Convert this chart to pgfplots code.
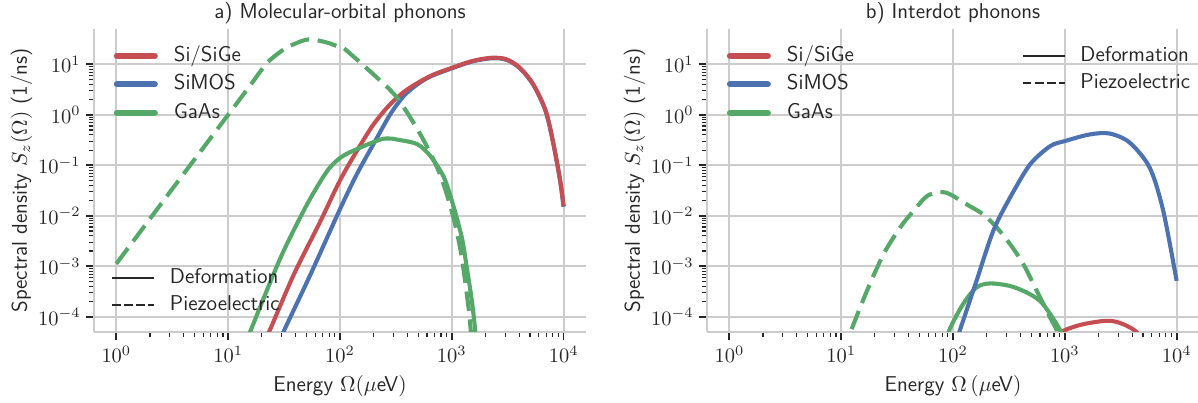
\RequirePackage{fix-cm}
\documentclass[border=0pt]{standalone}
\usepackage{pgfplots}
\pgfplotsset{compat=1.18}
\renewcommand{\familydefault}{\sfdefault}

\definecolor{cRed}{HTML}{C44E52}
\definecolor{cBlue}{HTML}{4C72B0}
\definecolor{cGreen}{HTML}{55A868}
\definecolor{gridgray}{HTML}{CCCCCC}
\definecolor{txt}{HTML}{262626}

\pgfplotsset{
  mycurve/.style={line width=2.1pt, smooth, tension=0.5, line join=round},
  mydash/.style={dash pattern=on 10pt off 4.4pt},
}

\begin{document}
\begin{tikzpicture}
\useasboundingbox (-48.2pt,-36.4pt) rectangle (566.4pt,170.3pt);

% ---- a) molecular-orbital phonons
\begin{axis}[at={(0pt,0pt)}, anchor=south west,
    scale only axis, width=252.4pt, height=155.4pt,
    xmode=log, ymode=log,
    xmin=0.631, xmax=15849, ymin=5e-5, ymax=50,
    axis lines*=left,
    axis line style={gridgray, line width=1.25pt, -},
    tick align=outside,
    major tick length=4.1pt, minor tick length=2.6pt,
    tick style={txt, line width=0.9pt},
    minor tick style={line width=0.6pt},
    grid=major, major grid style={gridgray, line width=1pt},
    xtick={1,10,100,1000,10000},
    ytick={1e-4,1e-3,1e-2,1e-1,1,10},
    tick label style={text=txt, font=\fontsize{10.5}{12}\selectfont},
    xticklabel style={anchor=base, yshift=-11.8pt},
    yticklabel style={anchor=east, inner sep=0pt, xshift=-2.6pt},
    title style={at={(axis description cs:0.5,1)}, anchor=base, yshift=-0.5pt, text=txt, font=\fontsize{11}{13}\selectfont},
    label style={font=\fontsize{11}{13}\selectfont},
    xlabel style={at={(axis description cs:0.5,0)}, anchor=base, yshift=-30.6pt, text=txt},
    ylabel style={at={(axis description cs:-0.1363,0.5)}, anchor=base, text=txt},
    ylabel={Spectral density $S_z(\Omega)$ (1/ns)},
    title={a) Molecular-orbital phonons},
    xlabel={Energy $\Omega(\mu$eV$)$},
    legend style={at={(axis description cs:0,1)}, anchor=north west,
      xshift=10pt, yshift=-8.8pt, draw=none, fill=none, inner sep=0pt,
      row sep=5.1pt, column sep=8.2pt,
      nodes={inner sep=0pt, text height=7.5pt, text depth=2pt, text=txt,
             font=\fontsize{11}{13}\selectfont}},
    legend image code/.code={\draw[#1] (0pt,0pt) -- (19.5pt,0pt);},
    legend cell align=left]
\addplot[mycurve, cBlue, forget plot] coordinates {
 (25.12,1.585e-5)(31.55,5.25e-5)(54.58,6.92e-4)(100,1.349e-2)(141.3,6.607e-2)
 (199.5,0.263)(281.8,1.023)(371.5,2.344)(489.8,3.981)(645.7,5.754)(1000,8.318)
 (1549,11.48)(2291,13.18)(3090,12.30)(4074,8.318)(5370,3.890)(6918,1.175)
 (8128,0.257)(9333,4.786e-2)(10000,1.514e-2)};
\addplot[mycurve, cRed, forget plot] coordinates {
 (17.78,1.41e-5)(23.44,5.25e-5)(38.73,6.92e-4)(67.14,7.94e-3)(100,5.01e-2)
 (141.3,0.1905)(199.5,0.6457)(281.8,1.622)(398.1,3.162)(645.7,5.888)(1000,8.511)
 (1549,11.75)(2291,13.49)(3090,12.59)(4074,8.511)(5370,3.981)(6918,1.202)
 (8128,0.263)(9333,4.898e-2)(10000,1.549e-2)};
\addplot[mycurve, cGreen, forget plot] coordinates {
 (12.59,1.41e-5)(15.85,5.25e-5)(29.44,1.479e-3)(50.93,1.698e-2)(77.09,7.76e-2)
 (102.3,0.1445)(141.3,0.2089)(229.1,0.3236)(281.8,0.3388)(323.6,0.3236)
 (489.8,0.263)(645.7,0.1514)(851.1,5.75e-2)(1023,1.698e-2)(1230,3.715e-3)
 (1349,1.096e-3)(1514,2.042e-4)(1622,5.25e-5)(1698,1.58e-5)};
\addplot[mycurve, mydash, cGreen, forget plot] coordinates {
 (1,1.122e-3)(3.162,3.39e-2)(10,1.0)(15.85,3.9)(22.34,10.72)(31.62,19.95)
 (38.73,25.1)(52.72,31.26)(77.09,26.9)(101.4,21.38)(110.9,19.95)(199.5,6.31)
 (323.6,2.188)(524.8,0.4074)(741.3,8.91e-2)(901.6,2.69e-2)(1071.5,6.76e-3)
 (1230,1.479e-3)(1412.5,1.514e-4)(1479,5.25e-5)(1549,1.58e-5)};
\addlegendimage{cRed, line width=3.1pt, line cap=round}
\addlegendimage{cBlue, line width=3.1pt, line cap=round}
\addlegendimage{cGreen, line width=3.1pt, line cap=round}
\legend{Si/SiGe, SiMOS, GaAs}
\end{axis}

\begin{axis}[at={(0pt,0pt)}, anchor=south west,
    scale only axis, width=252.4pt, height=155.4pt,
    xmode=log, ymode=log,
    xmin=0.631, xmax=15849, ymin=5e-5, ymax=50, hide axis,
    legend style={at={(axis description cs:0,1)}, anchor=north west,
      xshift=8.6pt, yshift=-122.6pt, draw=none, fill=none, inner sep=0pt,
      row sep=4.7pt, column sep=7.8pt,
      nodes={inner sep=0pt, text height=7.5pt, text depth=2pt, text=txt,
             font=\fontsize{11}{13}\selectfont}},
    legend image code/.code={\draw[#1] (0pt,0pt) -- (21.3pt,0pt);},
    legend cell align=left]
\addlegendimage{txt, line width=1.1pt}
\addlegendimage{txt, line width=1.1pt, dash pattern=on 4.3pt off 1.9pt}
\legend{Deformation, Piezoelectric}
\end{axis}

% ---- b) interdot phonons
\begin{axis}[at={(314.5pt,0pt)}, anchor=south west,
    scale only axis, width=252.4pt, height=155.4pt,
    xmode=log, ymode=log,
    xmin=0.631, xmax=15849, ymin=5e-5, ymax=50,
    axis lines*=left,
    axis line style={gridgray, line width=1.25pt, -},
    tick align=outside,
    major tick length=4.1pt, minor tick length=2.6pt,
    tick style={txt, line width=0.9pt},
    minor tick style={line width=0.6pt},
    grid=major, major grid style={gridgray, line width=1pt},
    xtick={1,10,100,1000,10000},
    ytick={1e-4,1e-3,1e-2,1e-1,1,10},
    tick label style={text=txt, font=\fontsize{10.5}{12}\selectfont},
    xticklabel style={anchor=base, yshift=-11.8pt},
    yticklabel style={anchor=east, inner sep=0pt, xshift=-2.6pt},
    title style={at={(axis description cs:0.5,1)}, anchor=base, yshift=-0.5pt, text=txt, font=\fontsize{11}{13}\selectfont},
    label style={font=\fontsize{11}{13}\selectfont},
    xlabel style={at={(axis description cs:0.5,0)}, anchor=base, yshift=-30.6pt, text=txt},
    ylabel style={at={(axis description cs:-0.1363,0.5)}, anchor=base, text=txt},
    ylabel={Spectral density $S_z(\Omega)$ (1/ns)},
    title={b) Interdot phonons},
    xlabel={Energy $\Omega\,(\mu$eV$)$},
    legend style={at={(axis description cs:0,1)}, anchor=north west,
      xshift=10pt, yshift=-8.8pt, draw=none, fill=none, inner sep=0pt,
      row sep=5.1pt, column sep=8.2pt,
      nodes={inner sep=0pt, text height=7.5pt, text depth=2pt, text=txt,
             font=\fontsize{11}{13}\selectfont}},
    legend image code/.code={\draw[#1] (0pt,0pt) -- (19.5pt,0pt);},
    legend cell align=left]
\addplot[mycurve, cRed, forget plot] coordinates {
 (794.3,3.55e-5)(966.1,5.25e-5)(1445,7.08e-5)(2344,8.318e-5)(3090,7.586e-5)
 (4266,5.25e-5)(5623,2.512e-5)};
\addplot[mycurve, cGreen, mydash, forget plot] coordinates {
 (10,1.738e-5)(12.22,5.25e-5)(16.98,3.236e-4)(23.93,1.738e-3)(33.73,5.888e-3)
 (44.46,1.259e-2)(58.48,2.455e-2)(77.09,2.951e-2)(93.33,2.692e-2)(131.8,1.698e-2)
 (186.2,1.072e-2)(245.5,5.888e-3)(323.6,2.754e-3)(426.6,1.096e-3)(562.3,3.236e-4)
 (741.3,9.55e-5)(851.1,5.25e-5)(933.3,2.512e-5)};
\addplot[mycurve, cGreen, forget plot] coordinates {
 (85.11,2.512e-5)(93.33,5.62e-5)(123.0,1.778e-4)(162.2,3.802e-4)(213.8,4.571e-4)
 (323.6,4.074e-4)(457.1,3.02e-4)(602.6,2.042e-4)(741.3,1.122e-4)(912.0,5.37e-5)
 (1000,3.162e-5)};
\addplot[mycurve, cBlue, forget plot] coordinates {
 (100,1.995e-5)(114.8,5.25e-5)(162.2,5.129e-4)(229.1,5.012e-3)(323.6,2.291e-2)
 (489.8,0.1047)(741.3,0.2399)(1000,0.302)(1660,0.4074)(2512,0.4266)(3802,0.2818)
 (5754,8.913e-2)(7586,1.259e-2)(10000,5.129e-4)};
\addlegendimage{cRed, line width=3.1pt, line cap=round}
\addlegendimage{cBlue, line width=3.1pt, line cap=round}
\addlegendimage{cGreen, line width=3.1pt, line cap=round}
\legend{Si/SiGe, SiMOS, GaAs}
\end{axis}

\begin{axis}[at={(314.5pt,0pt)}, anchor=south west,
    scale only axis, width=252.4pt, height=155.4pt,
    xmode=log, ymode=log,
    xmin=0.631, xmax=15849, ymin=5e-5, ymax=50, hide axis,
    legend style={at={(axis description cs:0,1)}, anchor=north west,
      xshift=161.4pt, yshift=-8.8pt, draw=none, fill=none, inner sep=0pt,
      row sep=4.5pt, column sep=7.6pt,
      nodes={inner sep=0pt, text height=7.5pt, text depth=2pt, text=txt,
             font=\fontsize{11}{13}\selectfont}},
    legend image code/.code={\draw[#1] (0pt,0pt) -- (21.3pt,0pt);},
    legend cell align=left]
\addlegendimage{txt, line width=1.1pt}
\addlegendimage{txt, line width=1.1pt, dash pattern=on 4.3pt off 1.9pt}
\legend{Deformation, Piezoelectric}
\end{axis}
\end{tikzpicture}
\end{document}
